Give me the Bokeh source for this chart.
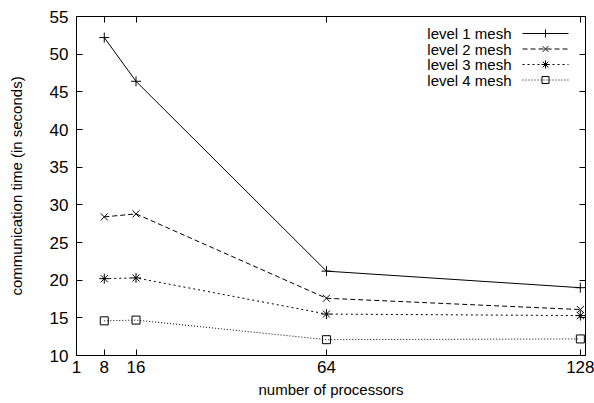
from bokeh.plotting import figure
from bokeh.models import Range1d, FixedTicker, LinearAxis
from bokeh.embed import file_html
from bokeh.resources import INLINE
from bokeh.core.properties import value

# ---- data ----
procs = [8, 16, 64, 128]
level1 = [52.2, 46.4, 21.2, 19.0]
level2 = [28.4, 28.8, 17.6, 16.1]
level3 = [20.2, 20.3, 15.5, 15.3]
level4 = [14.6, 14.7, 12.1, 12.2]
series_names = ["level 1 mesh", "level 2 mesh", "level 3 mesh", "level 4 mesh"]
x_ticks = [1, 8, 16, 64, 128]
y_ticks = [10, 15, 20, 25, 30, 35, 40, 45, 50, 55]

# ---- layout ----
X0, X1 = 1, 129.3
Y0, Y1 = 10, 55
LEFT, TOP, FW, FH = 76, 16, 509, 339
FONT = "Liberation Sans"

p = figure(width=594, height=403, frame_width=FW, frame_height=FH,
           x_range=Range1d(X0, X1), y_range=Range1d(Y0, Y1),
           output_backend="svg", toolbar_location=None,
           min_border_left=LEFT, min_border_top=TOP,
           min_border_right=594 - LEFT - FW, min_border_bottom=403 - TOP - FH)
p.xgrid.visible = False
p.ygrid.visible = False
p.outline_line_color = "black"
p.outline_line_width = 1
p.background_fill_color = "white"
p.border_fill_color = "white"

def style_axis(ax, show_labels):
    ax.axis_line_color = "black"
    ax.major_tick_in = 6
    ax.major_tick_out = 0
    ax.minor_tick_in = 0
    ax.minor_tick_out = 0
    ax.major_tick_line_color = "black"
    ax.major_label_text_font = FONT
    ax.major_label_text_font_size = "17px" if show_labels else "1px"
    ax.major_label_text_color = "black"
    ax.axis_label_text_font = FONT
    ax.axis_label_text_font_style = "normal"
    ax.axis_label_text_font_size = "15px"
    ax.axis_label_text_color = "black"

p.xaxis.ticker = FixedTicker(ticks=x_ticks)
p.yaxis.ticker = FixedTicker(ticks=y_ticks)
p.xaxis.axis_label = "number of processors"
p.yaxis.axis_label = "communication time (in seconds)"
style_axis(p.xaxis[0], True)
style_axis(p.yaxis[0], True)
p.xaxis.major_label_standoff = 5
p.yaxis.major_label_standoff = 8
p.xaxis.axis_label_standoff = 5
p.yaxis.axis_label_standoff = 22

# mirrored tick marks (gnuplot style), without labels
top_ax = LinearAxis(ticker=FixedTicker(ticks=x_ticks),
                    major_label_overrides={t: "" for t in x_ticks})
right_ax = LinearAxis(ticker=FixedTicker(ticks=y_ticks),
                      major_label_overrides={t: "" for t in y_ticks})
style_axis(top_ax, False)
style_axis(right_ax, False)
top_ax.major_label_standoff = 0
right_ax.major_label_standoff = 0
p.add_layout(top_ax, "above")
p.add_layout(right_ax, "right")

dashes = ["solid", "5 3", "2 3", "1 2"]
markers = ["cross", "x", "asterisk", "square"]
series = [level1, level2, level3, level4]

for ys, dash, mk in zip(series, dashes, markers):
    p.line(procs, ys, line_color="black", line_width=1, line_dash=dash)
    p.scatter(procs, ys, marker=mk, size=10 if mk != "square" else 8,
              line_color="black", fill_color=None, line_width=1)

# ---- legend (gnuplot style: label, then sample) ----
def dx(px):
    return X0 + (px - LEFT) / FW * (X1 - X0)

def dy(py):
    return Y1 - (py - TOP) / FH * (Y1 - Y0)

rows = [33, 48.5, 64, 79.5]
for name, dash, mk, ry in zip(series_names, dashes, markers, rows):
    p.text(x=[dx(511)], y=[dy(ry)], text=[name], text_align="right",
           text_baseline="middle", text_font=value(FONT),
           text_font_size="15px", text_color="black")
    p.line([dx(522), dx(568)], [dy(ry), dy(ry)], line_color="black",
           line_width=1, line_dash=dash)
    p.scatter([dx(545)], [dy(ry)], marker=mk, size=8 if mk != "square" else 7,
              line_color="black", fill_color=None, line_width=1)

open("out.html", "w").write(file_html(p, INLINE))
